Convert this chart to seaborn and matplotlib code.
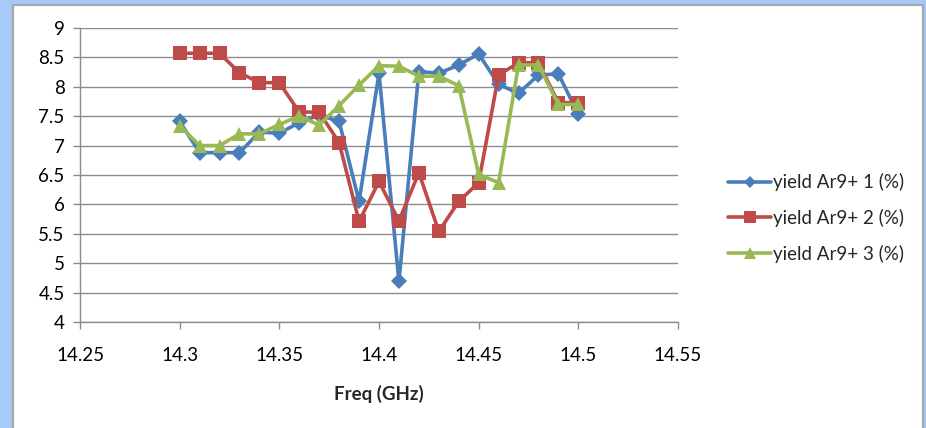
"""
plot.py
=======
Yield Ar9+ terhadap frekuensi (14.30 - 14.50 GHz), tiga pengukuran.
Output: out.png (926x428 px)
"""

import matplotlib
matplotlib.use('Agg')
import pandas as pd
import matplotlib.pyplot as plt
from matplotlib.patches import Rectangle
import seaborn as sns


# ─────────────────────────────────────────────
# DATA
# ─────────────────────────────────────────────

FREQ = [14.30, 14.31, 14.32, 14.33, 14.34, 14.35, 14.36, 14.37, 14.38, 14.39, 14.40,
        14.41, 14.42, 14.43, 14.44, 14.45, 14.46, 14.47, 14.48, 14.49, 14.50]

YIELD_1 = [7.41, 6.88, 6.88, 6.88, 7.23, 7.21, 7.39, 7.52, 7.41, 6.05, 8.23,
           4.69, 8.26, 8.23, 8.37, 8.56, 8.04, 7.89, 8.20, 8.22, 7.53]
YIELD_2 = [8.57, 8.57, 8.57, 8.24, 8.07, 8.07, 7.57, 7.57, 7.05, 5.71, 6.39,
           5.72, 6.54, 5.54, 6.05, 6.37, 8.20, 8.41, 8.41, 7.73, 7.73]
YIELD_3 = [7.34, 7.00, 7.00, 7.20, 7.20, 7.36, 7.50, 7.35, 7.68, 8.03, 8.36,
           8.35, 8.18, 8.18, 8.02, 6.51, 6.37, 8.37, 8.37, 7.70, 7.70]

SERIES = ['yield Ar9+ 1 (%)', 'yield Ar9+ 2 (%)', 'yield Ar9+ 3 (%)']

X_TICKS       = [14.25, 14.30, 14.35, 14.40, 14.45, 14.50, 14.55]
X_TICK_LABELS = ['14.25', '14.3', '14.35', '14.4', '14.45', '14.5', '14.55']
Y_TICKS       = [4, 4.5, 5, 5.5, 6, 6.5, 7, 7.5, 8, 8.5, 9]
Y_TICK_LABELS = ['4', '4.5', '5', '5.5', '6', '6.5', '7', '7.5', '8', '8.5', '9']

X_LABEL = 'Freq (GHz)'

# ── Style ──
COLORS   = ['#4A7EBB', '#BE4B48', '#98B954']
MARKERS  = ['D', 's', '^']
M_SIZES  = [8, 10, 10]
LEG_SIZE = [6, 8, 8]
FONT     = ['Lato', 'DejaVu Sans']
W, H     = 926, 428


# ─────────────────────────────────────────────
# PLOT
# ─────────────────────────────────────────────

df = pd.DataFrame({
    'freq':   FREQ * 3,
    'yield':  YIELD_1 + YIELD_2 + YIELD_3,
    'series': [s for s in SERIES for _ in FREQ],
})

sns.set_style('white')
plt.rcParams['font.family'] = FONT

fig = plt.figure(figsize=(W / 100, H / 100), dpi=100, facecolor='#A6CBF6')

# panel putih dengan garis tepi abu-abu (di belakang axes)
fig.patches.append(Rectangle((13 / W, -0.05), (923 - 13) / W, 1.05 - 5 / H,
                             transform=fig.transFigure, facecolor='white',
                             edgecolor='#A8A8A8', linewidth=1.6, zorder=-1))

ax = fig.add_axes([80 / W, 1 - 322 / H, (678 - 80) / W, (322 - 28) / H])
ax.set_facecolor('none')

sns.lineplot(data=df, x='freq', y='yield', hue='series', style='series',
             palette=dict(zip(SERIES, COLORS)),
             markers=dict(zip(SERIES, MARKERS)), dashes=False,
             linewidth=2.6, markeredgewidth=0, sort=False, ax=ax)

for line, ms in zip(ax.get_lines(), M_SIZES):
    line.set_markersize(ms)

ax.set_xlim(14.25, 14.55)
ax.set_ylim(4, 9)
ax.set_xticks(X_TICKS, X_TICK_LABELS)
ax.set_yticks(Y_TICKS, Y_TICK_LABELS)
ax.yaxis.grid(True, color='#8C8C8C', linewidth=1.0)
ax.xaxis.grid(False)
ax.set_axisbelow(True)

for side in ['top', 'right']:
    ax.spines[side].set_visible(False)
for side in ['left', 'bottom']:
    ax.spines[side].set_color('#8C8C8C')
    ax.spines[side].set_linewidth(1.0)

ax.tick_params(axis='both', which='major', length=5, width=1.0,
               color='#8C8C8C', labelsize=13.5, labelcolor='black',
               direction='out', left=True, bottom=True)
ax.tick_params(axis='x', pad=13)
ax.tick_params(axis='y', pad=6)

ax.set_xlabel(X_LABEL, fontsize=13.5, fontweight='bold', labelpad=15)
ax.set_ylabel('')

handles, labels = ax.get_legend_handles_labels()
leg = ax.legend(handles, labels, loc='center left',
                bbox_to_anchor=(728 / W, 1 - 218 / H), bbox_transform=fig.transFigure,
                frameon=False, fontsize=13.5, handlelength=2.3, handletextpad=0.1,
                labelspacing=0.95, borderpad=0, borderaxespad=0)
for h, ms in zip(leg.get_lines(), LEG_SIZE):
    h.set_markersize(ms)
    h.set_linewidth(2.6)

fig.savefig('out.png', dpi=100, facecolor=fig.get_facecolor())
plt.close(fig)
